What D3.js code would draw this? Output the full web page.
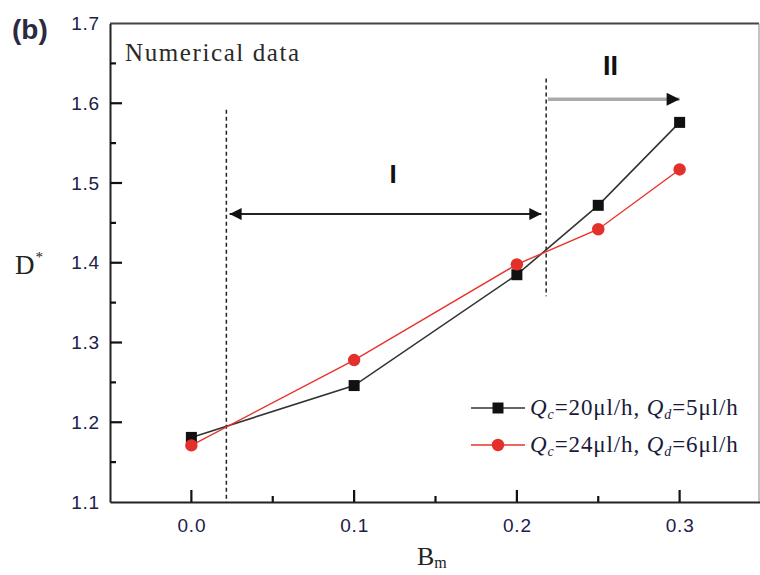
<!DOCTYPE html>
<html><head><meta charset="utf-8">
<script src="https://cdn.jsdelivr.net/npm/d3@7"></script>
<style>body{margin:0;background:#fff}svg{display:block}</style>
</head><body>
<svg id="c" width="760" height="575"></svg>
<script>
const xValues = [0.0, 0.1, 0.2, 0.25, 0.3];
const seriesA = [1.181, 1.246, 1.385, 1.472, 1.576]; // Qc=20, Qd=5 (black squares)
const seriesB = [1.171, 1.278, 1.398, 1.442, 1.517]; // Qc=24, Qd=6 (red circles)
const xTicks = [0.0, 0.1, 0.2, 0.3];
const xMinorTicks = [0.05, 0.15, 0.25];
const yTicks = [1.1, 1.2, 1.3, 1.4, 1.5, 1.6, 1.7];
const yMinorTicks = [1.15, 1.25, 1.35, 1.45, 1.55, 1.65];
const dividers = [{x:0.0215, y0:1.1, y1:1.592}, {x:0.218, y0:1.358, y1:1.631}];
const arrowI = {x0:0.0235, x1:0.215, y:1.461};
const arrowII = {x0:0.219, x1:0.3, y:1.605};

const svg = d3.select('#c');
const x = d3.scaleLinear().domain([-0.05, 0.35]).range([110, 761]);
const y = d3.scaleLinear().domain([1.1, 1.7]).range([502, 23.5]);
const L = 110, R = 759, T = y(1.7), B = y(1.1);
const tickColor = '#20204a';
const sans = 'Liberation Sans, Arial, sans-serif';
const serif = 'Liberation Serif, Times New Roman, serif';

// frame
svg.append('line').attr('x1',L).attr('x2',R).attr('y1',T).attr('y2',T).attr('stroke','#444').attr('stroke-width',2);
svg.append('line').attr('x1',R).attr('x2',R).attr('y1',T).attr('y2',B).attr('stroke','#888').attr('stroke-width',1);

// axes (labels via d3 axis, ticks drawn inward)
const gx = svg.append('g').attr('transform',`translate(0,${B})`)
  .call(d3.axisBottom(x).tickValues(xTicks).tickFormat(d3.format('.1f')).tickSize(0).tickPadding(17));
const gy = svg.append('g').attr('transform',`translate(${L},0)`)
  .call(d3.axisLeft(y).tickValues(yTicks).tickFormat(d3.format('.1f')).tickSize(0).tickPadding(10));
[gx,gy].forEach(g=>{
  g.selectAll('.domain').attr('stroke','#222').attr('stroke-width',2);
  g.selectAll('.tick text').attr('fill',tickColor).attr('font-family',sans).attr('font-size',19).attr('letter-spacing',0.8);
});
// inward ticks
const tk = svg.append('g').attr('stroke','#111').attr('stroke-width',2.2);
tk.selectAll('.xM').data(xTicks).enter().append('line')
  .attr('x1',d=>x(d)).attr('x2',d=>x(d)).attr('y1',B).attr('y2',B-12);
tk.selectAll('.xm').data(xMinorTicks).enter().append('line')
  .attr('x1',d=>x(d)).attr('x2',d=>x(d)).attr('y1',B).attr('y2',B-6);
tk.selectAll('.yM').data(yTicks.slice(1,-1)).enter().append('line')
  .attr('x1',L).attr('x2',L+12).attr('y1',d=>y(d)).attr('y2',d=>y(d));
tk.selectAll('.ym').data(yMinorTicks).enter().append('line')
  .attr('x1',L).attr('x2',L+6).attr('y1',d=>y(d)).attr('y2',d=>y(d));

// dividers
dividers.forEach(d=>{
  svg.append('line').attr('x1',x(d.x)).attr('x2',x(d.x)).attr('y1',y(d.y1)).attr('y2',y(d.y0))
    .attr('stroke','#222').attr('stroke-width',1.5).attr('stroke-dasharray','4,3');
});

// arrow markers
const defs = svg.append('defs');
defs.append('marker').attr('id','ah').attr('viewBox','0 0 10 10').attr('refX',10).attr('refY',5)
  .attr('markerWidth',14).attr('markerHeight',12).attr('markerUnits','userSpaceOnUse').attr('orient','auto-start-reverse')
  .append('path').attr('d','M0,0 L10,5 L0,10 Z').attr('fill','#111');
defs.append('marker').attr('id','ah2').attr('viewBox','0 0 10 10').attr('refX',10).attr('refY',5)
  .attr('markerWidth',14).attr('markerHeight',13).attr('markerUnits','userSpaceOnUse').attr('orient','auto')
  .append('path').attr('d','M0,0 L10,5 L0,10 Z').attr('fill','#111');
svg.append('line').attr('x1',x(arrowI.x0)).attr('x2',x(arrowI.x1)).attr('y1',y(arrowI.y)).attr('y2',y(arrowI.y))
  .attr('stroke','#222').attr('stroke-width',2).attr('marker-start','url(#ah)').attr('marker-end','url(#ah)');
svg.append('line').attr('x1',x(arrowII.x0)).attr('x2',x(arrowII.x1)).attr('y1',y(arrowII.y)).attr('y2',y(arrowII.y))
  .attr('stroke','#aaa').attr('stroke-width',3.5).attr('marker-end','url(#ah2)');

svg.append('text').attr('x',x(0.124)).attr('y',y(1.461)-31).attr('text-anchor','middle')
  .attr('font-family',sans).attr('font-weight','bold').attr('font-size',26).attr('fill','#111').text('I');
svg.append('text').attr('x',x(0.2575)).attr('y',y(1.605)-24).attr('text-anchor','middle')
  .attr('font-family',sans).attr('font-weight','bold').attr('font-size',27).attr('fill','#111').text('II');

// series
const lineGen = d3.line().x((d,i)=>x(xValues[i])).y(d=>y(d));
svg.append('path').datum(seriesA).attr('d',lineGen).attr('fill','none').attr('stroke','#333').attr('stroke-width',1.6);
svg.append('path').datum(seriesB).attr('d',lineGen).attr('fill','none').attr('stroke','#e8332a').attr('stroke-width',1.4);
svg.selectAll('.sq').data(seriesA).enter().append('rect')
  .attr('x',(d,i)=>x(xValues[i])-5.5).attr('y',d=>y(d)-5.5).attr('width',11).attr('height',11).attr('fill','#111');
svg.selectAll('.ci').data(seriesB).enter().append('circle')
  .attr('cx',(d,i)=>x(xValues[i])).attr('cy',d=>y(d)).attr('r',6.2).attr('fill','#e3302a');

// legend
const legend = [
  {c:'20', d:'5', color:'#111', lc:'#333', shape:'sq'},
  {c:'24', d:'6', color:'#e3302a', lc:'#e8332a', shape:'ci'}
];
legend.forEach((l,i)=>{
  const ly = 408 + i*37;
  svg.append('line').attr('x1',471).attr('x2',525).attr('y1',ly).attr('y2',ly).attr('stroke',l.lc).attr('stroke-width',1.6);
  if(l.shape==='sq') svg.append('rect').attr('x',498-5.5).attr('y',ly-5.5).attr('width',11).attr('height',11).attr('fill',l.color);
  else svg.append('circle').attr('cx',498).attr('cy',ly).attr('r',6.2).attr('fill',l.color);
  const t = svg.append('text').attr('x',530).attr('y',ly+7).attr('font-family',serif).attr('font-size',23).attr('letter-spacing',0.9).attr('fill','#1a1a3a');
  t.append('tspan').attr('font-style','italic').text('Q');
  t.append('tspan').attr('font-style','italic').attr('font-size',14).attr('dy',4).text('c');
  t.append('tspan').attr('dy',-4).text('=' + l.c + 'μl/h, ');
  t.append('tspan').attr('font-style','italic').text('Q');
  t.append('tspan').attr('font-style','italic').attr('font-size',14).attr('dy',4).text('d');
  t.append('tspan').attr('dy',-4).text('=' + l.d + 'μl/h');
});

// texts
svg.append('text').attr('x',125).attr('y',61).attr('font-family',serif).attr('font-size',25).attr('letter-spacing',1.6).attr('fill','#2a2a2a').text('Numerical data');
svg.append('text').attr('x',12).attr('y',39).attr('font-family',sans).attr('font-weight','bold').attr('font-size',28).attr('fill','#2a2a40').text('(b)');
const yl = svg.append('text').attr('x',15).attr('y',274).attr('font-family',serif).attr('font-size',27).attr('letter-spacing',1).attr('fill','#222');
yl.append('tspan').text('D');
yl.append('tspan').attr('font-size',15).attr('dy',-12).text('*');
const xl = svg.append('text').attr('x',417).attr('y',565).attr('font-family',serif).attr('font-size',26).attr('fill','#222');
xl.append('tspan').text('B');
xl.append('tspan').attr('font-size',16).attr('dy',3).text('m');
</script>
</body></html>
